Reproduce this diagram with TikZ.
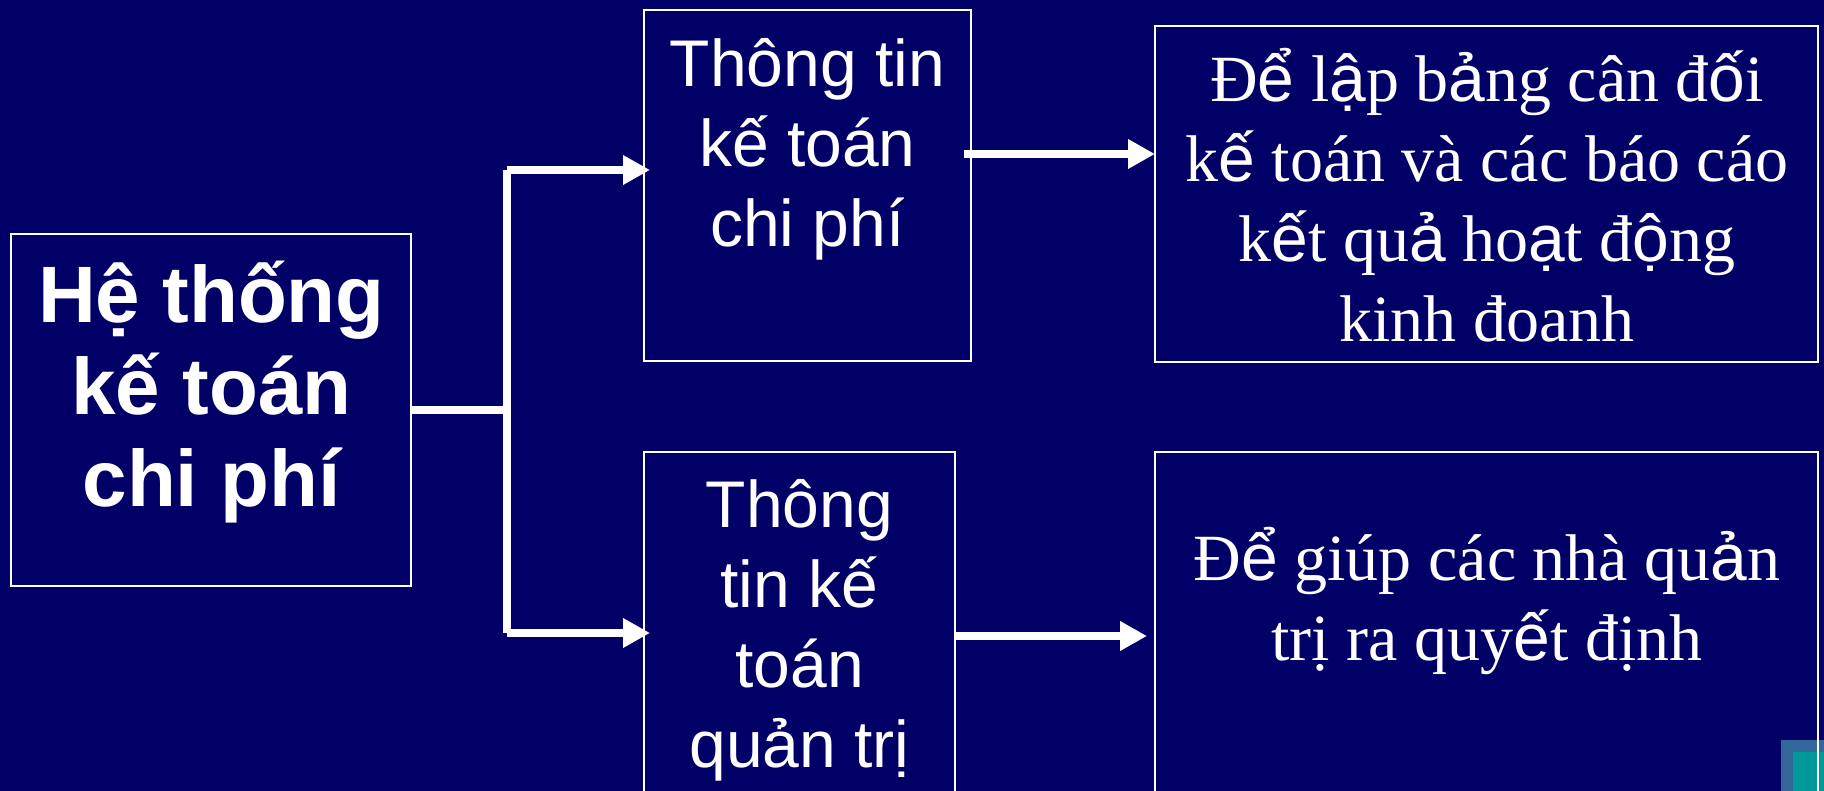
\documentclass[tikz,border=0pt]{standalone}
\usepackage{fontspec}
\newfontfamily\arialf{Liberation Sans}
\newfontfamily\timesf{Liberation Serif}
\usetikzlibrary{arrows.meta}
\definecolor{bgnavy}{RGB}{0,0,102}
\definecolor{decoblue}{RGB}{51,102,153}
\definecolor{decoteal}{RGB}{0,153,153}
\newcommand\fbk[1]{{\arialf #1}}
\begin{document}
\begin{tikzpicture}[x=1pt,y=-1pt,
  boxnode/.style={draw=white, line width=1.5pt, inner sep=0pt, outer sep=0pt, rectangle, anchor=north west},
  txtbase/.style={text=white, align=center, inner sep=0pt, anchor=base},
  maintext/.style={txtbase, font=\arialf\bfseries\fontsize{80}{92.5}\selectfont},
  sanstext/.style={txtbase, font=\arialf\fontsize{66}{80}\selectfont},
  seriftext/.style={txtbase, font=\timesf\fontsize{66}{80}\selectfont},
  conn/.style={draw=white, line width=8pt},
  arr/.style={conn, -{Triangle[length=27pt,width=28pt]}}]
\useasboundingbox (0,0) rectangle (1824,791);
\clip (0,0) rectangle (1824,791);
\fill[bgnavy] (0,0) rectangle (1824,791);
% decoration in the corner
\fill[decoblue] (1781,740) rectangle (1824,791);
\fill[decoteal] (1793,752) rectangle (1824,791);
% boxes
\node[boxnode, minimum width=400pt, minimum height=352pt] (A) at (11,234) {};
\node[boxnode, minimum width=327pt, minimum height=351pt] (B) at (644,10) {};
\node[boxnode, minimum width=663pt, minimum height=336pt] (C) at (1155,26) {};
\node[boxnode, minimum width=311pt, minimum height=450pt] (D) at (644,452) {};
\node[boxnode, minimum width=663pt, minimum height=450pt] (E) at (1155,452) {};
% texts (anchor = baseline of the last line)
\node[maintext] (At) at (211.5,507) {Hệ thống\\kế toán\\chi phí};
\node[sanstext] (Bt) at (807.5,247) {Thông tin\\kế toán\\chi phí};
\node[seriftext] (Ct) at (1487,342) {Đ\fbk{ể} l\fbk{ậ}p b\fbk{ả}ng cân đ\fbk{ố}i\\k\fbk{ế} toán và các báo cáo\\k\fbk{ế}t qu\fbk{ả} ho\fbk{ạ}t đ\fbk{ộ}ng\\kinh đoanh};
\node[sanstext] (Dt) at (799.5,767) {Thông\\tin kế\\toán\\quản trị};
\node[seriftext] (Et) at (1487,660) {Đ\fbk{ể} giúp các nhà qu\fbk{ả}n\\trị ra quy\fbk{ế}t định};
% connectors
\coordinate (J) at (507,410);
\coordinate (Jt) at (507,170);
\coordinate (Jb) at (507,633);
\coordinate (b1) at (964,154);
\coordinate (d1) at (955,636);
\draw[conn] (A.east |- J) -- (J);
\draw[conn] (Jt) -- (Jb);
\draw[arr] (Jt) -- ([xshift=6pt]Jt -| B.west);
\draw[arr] (Jb) -- ([xshift=6pt]Jb -| D.west);
\draw[arr] (b1) -- (b1 -| C.west);
\draw[arr] (d1) -- ([xshift=-8pt]d1 -| E.west);
\end{tikzpicture}
\end{document}
